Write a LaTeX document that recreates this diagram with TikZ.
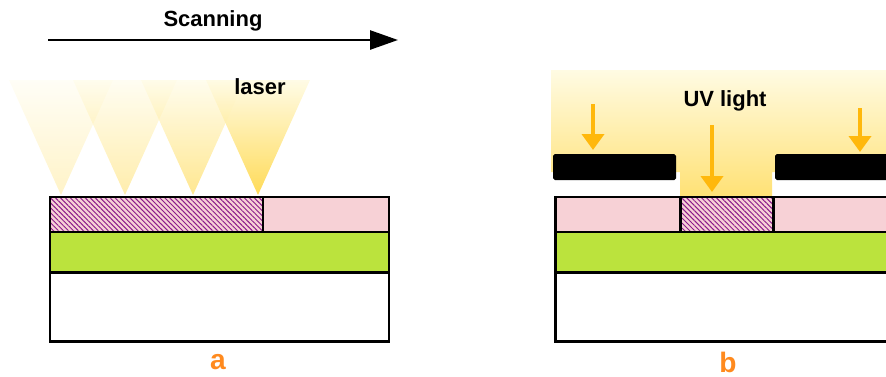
\documentclass[tikz,border=0pt]{standalone}
\usepackage{fontspec}
\setmainfont{Liberation Sans}
\usetikzlibrary{arrows.meta,patterns.meta}
\definecolor{layerpink}{HTML}{F7D1D6}
\definecolor{layergreen}{HTML}{BBE33D}
\definecolor{hatchpurple}{HTML}{8A1A8A}
\definecolor{lightpale}{HTML}{FFFBE3}
\definecolor{lightgold}{HTML}{FFD746}
\definecolor{uvarrow}{HTML}{FFB80C}
\definecolor{labelorange}{HTML}{FF8A1E}

\begin{document}
\begin{tikzpicture}[line width=1.7pt,>=Stealth,
  layer/.style={draw=black,line width=1.7pt},
  hatch/.style={pattern={Lines[angle=-45,distance=2pt,line width=0.55pt]},pattern color=hatchpurple},
  cone/.style={top color=lightpale,bottom color=lightgold},
  uv/.style={->,draw=uvarrow,line width=2.2pt,>={Triangle[length=3.2mm,width=4.4mm]}},
  title/.style={font=\bfseries\fontsize{12.5}{14}\selectfont,text=black},
  tag/.style={font=\bfseries\fontsize{16}{18}\selectfont,text=labelorange}]
\useasboundingbox (0,0) rectangle (17.72,7.52);
% ================= (a) laser scanning =================
\coordinate (scanL) at (0.96,6.72);
\coordinate (scanR) at (7.96,6.72);
\draw[->,line width=1.5pt,>={Triangle[length=5.6mm,width=3.8mm]}] (scanL) -- (scanR);
\node[title] (scan) at (4.26,7.1) {Scanning};
% laser cones, brighter towards the right
\foreach \tx/\op in {1.22/0.3,2.5/0.45,3.86/0.6,5.16/0.9} {
  \shade[cone,opacity=\op] (\tx-1.04,5.92) -- (\tx+1.04,5.92) -- (\tx,3.62) -- cycle;
}
\node[title] (laser) at (5.2,5.78) {laser};
% layer stack
\draw[layer,fill=white] (1.0,0.70) rectangle (7.78,2.08);
\draw[layer,fill=layergreen] (1.0,2.08) rectangle (7.78,2.88);
\draw[layer,fill=layerpink] (1.0,2.88) rectangle (7.78,3.58);
\fill[hatch] (1.0,2.88) rectangle (5.26,3.58);
\draw[layer] (1.0,2.88) rectangle (5.26,3.58);
\node[tag] (taga) at (4.36,0.28) {a};
% ================= (b) UV exposure through mask =================
\shade[top color=lightpale,bottom color=lightgold!75]
  (11.02,6.12) -- (17.8,6.12) -- (17.8,4.08) -- (15.44,4.08) -- (15.44,3.58)
  -- (13.6,3.58) -- (13.6,4.08) -- (11.02,4.08) -- cycle;
% mask
\fill[black,rounded corners=1pt] (11.06,3.92) rectangle (13.52,4.44);
\fill[black,rounded corners=1pt] (15.5,3.92) rectangle (17.9,4.44);
\node[title] (uvlight) at (14.5,5.5) {UV light};
% light arrows
\coordinate (uvA1) at (11.86,5.44);
\coordinate (uvA2) at (11.86,4.52);
\coordinate (uvB1) at (14.24,5.02);
\coordinate (uvB2) at (14.24,3.68);
\coordinate (uvC1) at (17.2,5.36);
\coordinate (uvC2) at (17.2,4.48);
\draw[uv] (uvA1) -- (uvA2);
\draw[uv] (uvB1) -- (uvB2);
\draw[uv] (uvC1) -- (uvC2);
% layer stack
\draw[layer,fill=white] (11.1,0.70) rectangle (17.9,2.08);
\draw[layer,fill=layergreen] (11.1,2.08) rectangle (17.9,2.88);
\draw[layer,fill=layerpink] (11.1,2.88) rectangle (17.9,3.58);
\fill[hatch] (13.6,2.88) rectangle (15.46,3.58);
\draw[layer] (13.6,2.88) rectangle (15.46,3.58);
\node[tag] (tagb) at (14.56,0.28) {b};
\end{tikzpicture}
\end{document}
